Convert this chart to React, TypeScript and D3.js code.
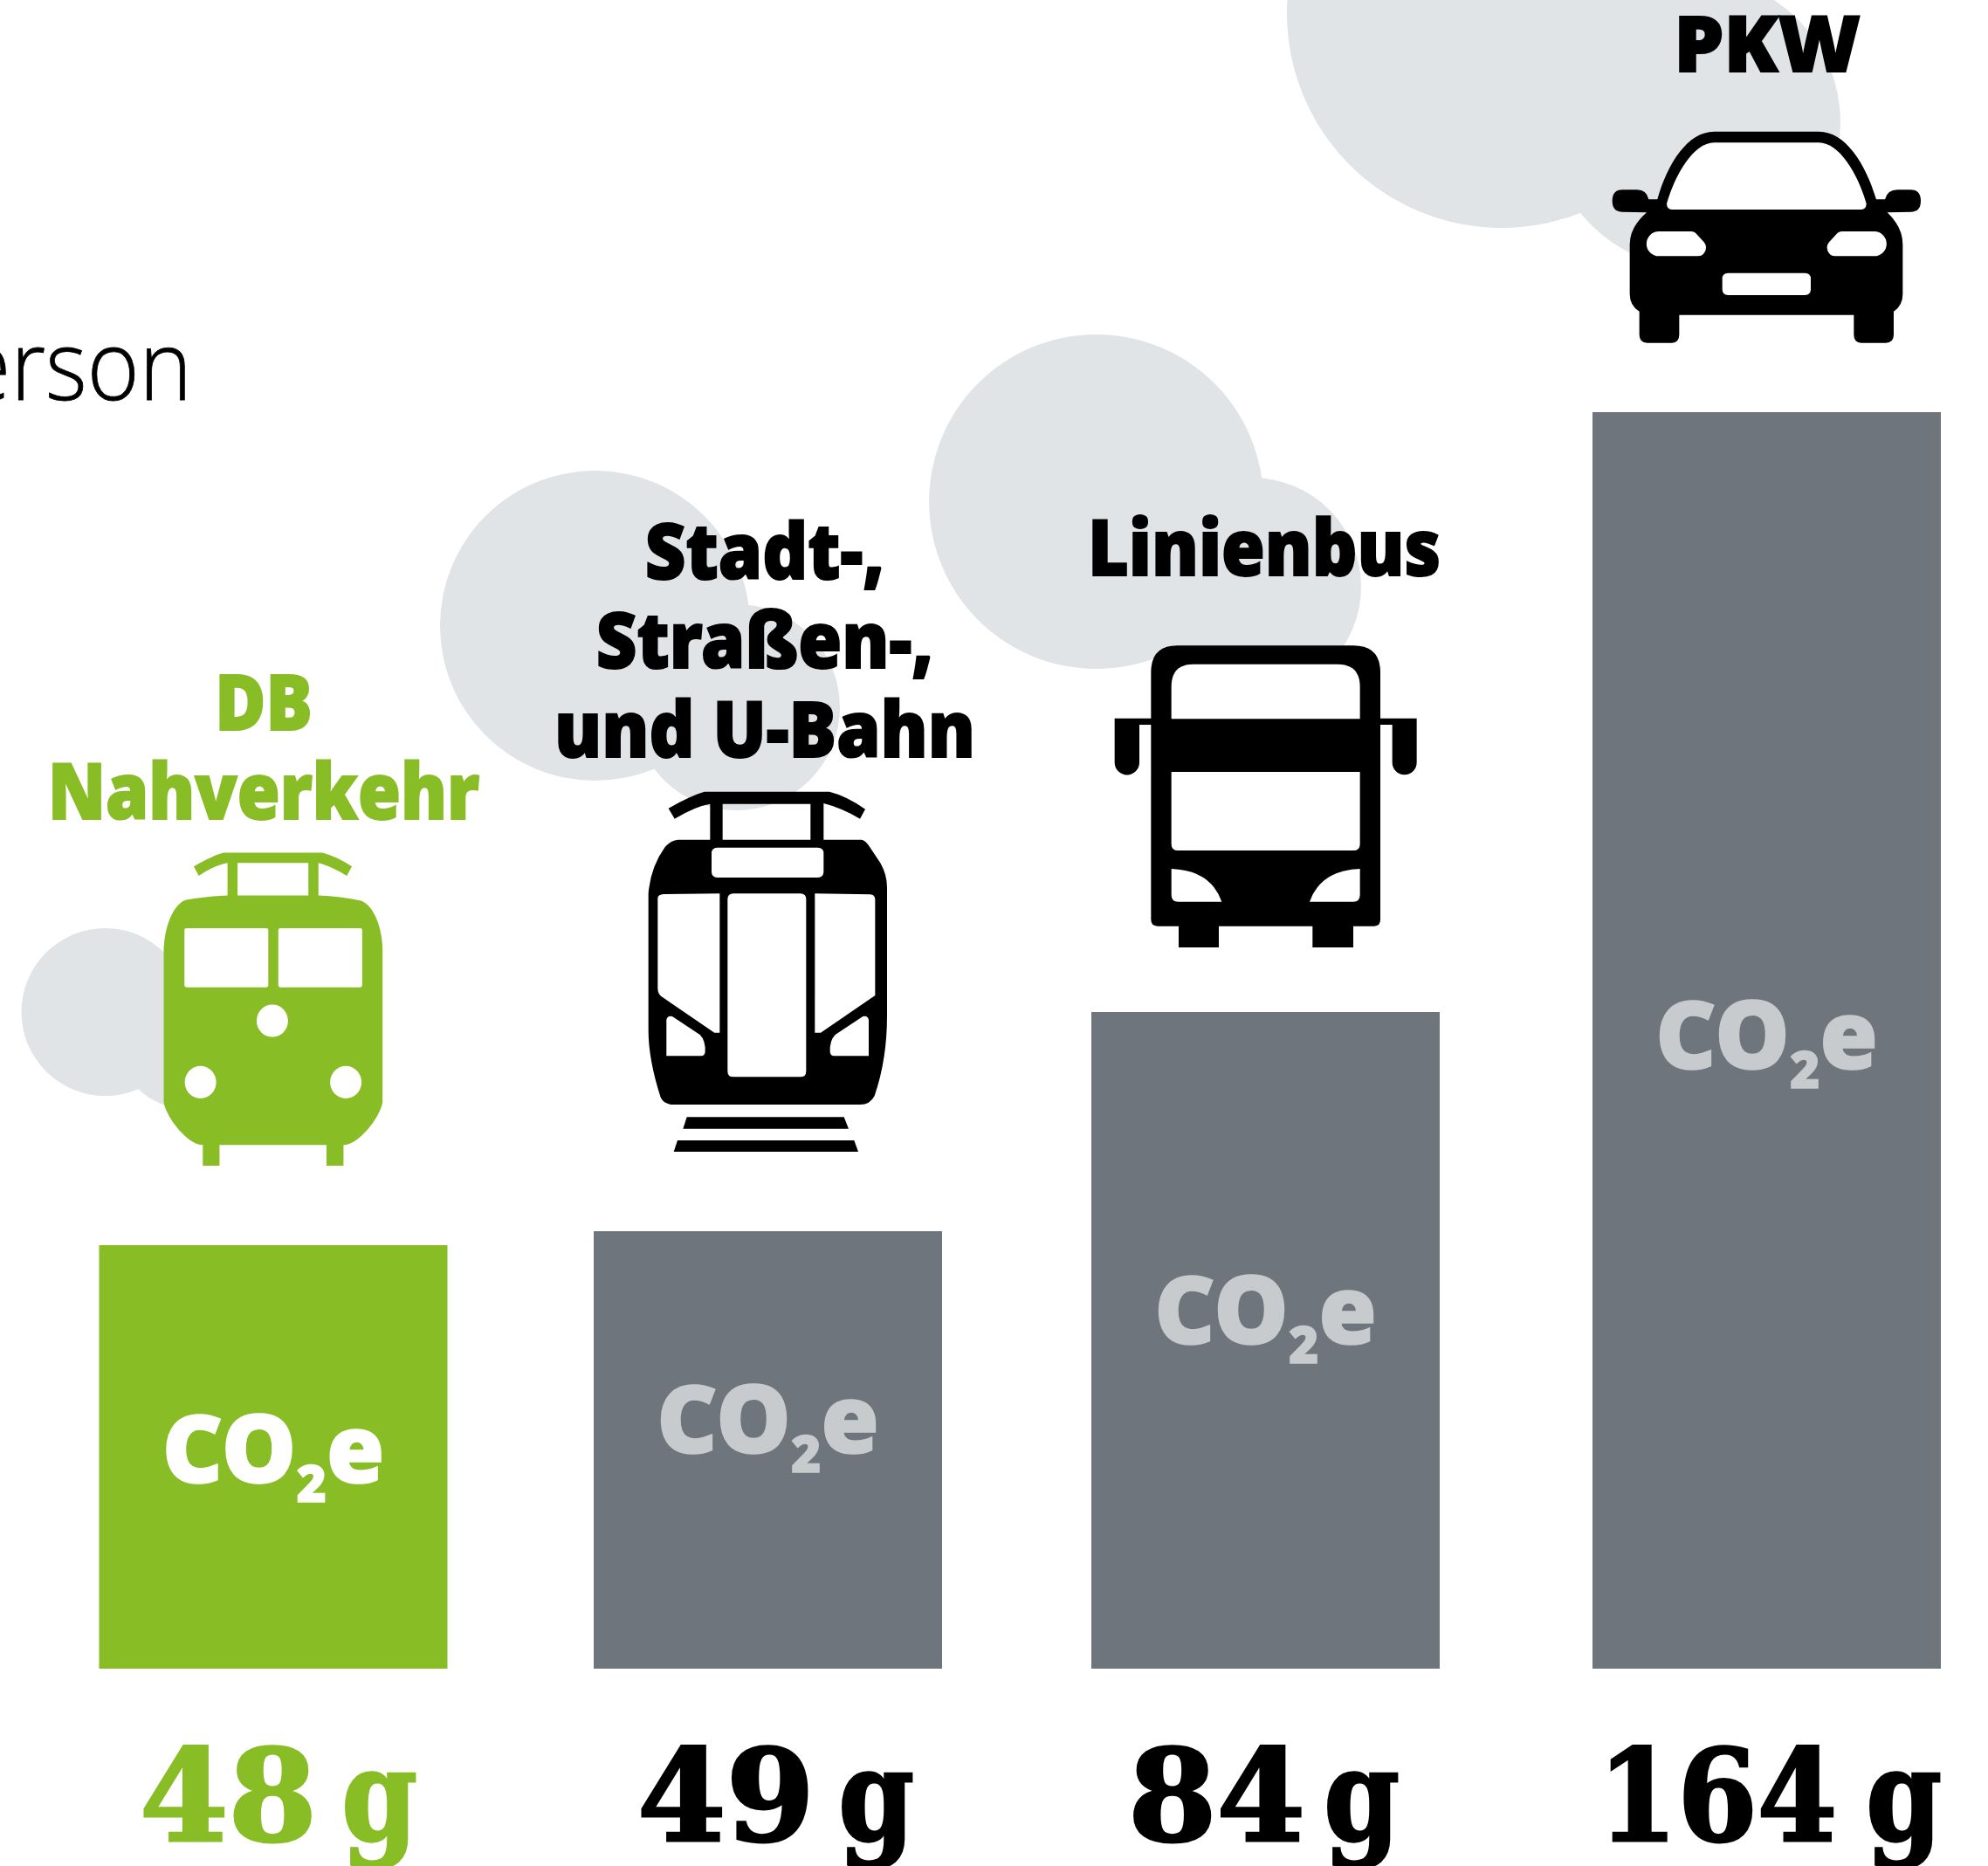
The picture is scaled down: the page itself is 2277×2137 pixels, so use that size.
import React, { useEffect, useRef } from 'react';
import * as d3 from 'd3';

const categories = ['DB Nahverkehr', 'Stadt-, Straßen- und U-Bahn', 'Linienbus', 'PKW'];
const values = [48, 49, 84, 164];
// the bars in the source are not proportional to the printed grams, so keep their drawn height
const drawnLevels = [485, 501, 752, 1439];
const labelLines = [['DB', 'Nahverkehr'], ['Stadt-,', 'Straßen-,', 'und U-Bahn'], ['Linienbus'], ['PKW']];

const WIDTH = 2277;
const HEIGHT = 2137;
const BASELINE = 1911;
const GREEN = '#88bd25';
const GREY = '#6e757c';
const CLOUD = '#e0e4e7';

const slotNudge = [0.5, -3, -3, 1];
const labelCentres = [302, 876, 1448, 2024];
const labelLastBaselines = [938, 867, 659, 82];
const labelStretch = [0.9, 0.92, 0.915, 1.03];
const digitLefts = [160, 730, 1292, 1830];
const gramRights = [478, 1047, 1603, 2224];
const co2Baselines = [1698, 1664, 1539, 1224];

const clouds = [
  [120.5, 1159, 96], [215, 1188, 82],
  [681.5, 716.5, 177.5], [844, 810, 118],
  [1255.6, 574.5, 191.5], [1434, 672, 125],
  [1720, 15, 246], [1941, 140, 167],
];

const roundRect = (x0: number, y0: number, x1: number, y1: number, r: number) =>
  `M${x0 + r},${y0}L${x1 - r},${y0}Q${x1},${y0} ${x1},${y0 + r}L${x1},${y1 - r}Q${x1},${y1} ${x1 - r},${y1}L${x0 + r},${y1}Q${x0},${y1} ${x0},${y1 - r}L${x0},${y0 + r}Q${x0},${y0} ${x0 + r},${y0}Z`;
const dot = (cx: number, cy: number, r: number) =>
  `M${cx - r},${cy}A${r},${r} 0 1 0 ${cx + r},${cy}A${r},${r} 0 1 0 ${cx - r},${cy}Z`;

// icon outlines, traced in the pixel space of the crops: origin + scale
const icons = [
  {
    x: 0, y: 740, kx: 1 / 2.613, ky: 1 / 2.529,
    solid: [
      'M580,638Q640,605 670,598L965,598Q1010,610 1053,638L1038,665Q985,635 953,628L953,725L923,725L923,628L711,628L711,725L681,725L681,628Q640,635 595,665Z',
      'M681,722L953,722Q1020,725 1080,737C1120,750 1145,820 1145,880L1145,1320C1140,1360 1075,1445 1028,1445L1028,1505L977,1505L977,1445L657,1445L657,1505L607,1505L607,1445C560,1445 495,1360 490,1320L490,890C490,820 515,750 555,735Q610,725 681,722Z',
    ],
    holes: [
      roundRect(552, 817, 803, 988, 6), roundRect(833, 817, 1084, 988, 6),
    ],
    lights: [[815, 1085], [600, 1263], [1035, 1263]],
  },
  {
    x: 620, y: 880, kx: 1 / 3, ky: 1 / 3,
    solid: [
      'M437,137Q510,95 560,80L990,80Q1050,95 1113,140L1095,173Q1030,135 970,120L970,250L925,250L925,122L623,122L623,250L580,250L580,122Q530,130 458,173Z',
      'M470,245L1100,245Q1115,248 1125,265L1165,325Q1188,365 1188,410L1188,850Q1188,1000 1145,1125Q1130,1155 1095,1155L445,1155Q420,1150 410,1130Q368,1000 368,900L368,430Q375,340 425,270Q445,247 470,245Z',
      'M500,1198L1040,1198L1056,1238L487,1238Z',
      'M468,1278L1075,1278L1089,1317L455,1317Z',
    ],
    holes: [
      roundRect(585, 272, 970, 375, 20), roundRect(640, 430, 910, 1060, 20),
      'M400,445Q402,433 420,432L613,430L613,908L595,908L415,785Q400,775 400,755Z',
      'M940,430L1130,433Q1147,435 1147,450L1147,780L960,908L940,908Z',
      'M430,865Q432,848 450,852L545,915Q565,935 563,975Q560,988 550,988L430,988Z',
      'M1125,865Q1123,848 1105,852L1010,915Q990,935 992,975Q995,988 1005,988L1125,988Z',
    ],
    lights: [],
  },
  {
    x: 1220, y: 700, kx: 1 / 3, ky: 1 / 3,
    solid: [
      'M385,118L990,118Q1083,118 1083,210L1083,368L1208,368L1208,520A42,42 0 0 1 1124,520L1124,390L1083,390L1083,1060Q1083,1082 1062,1082L990,1082L990,1155L850,1155L850,1082L528,1082L528,1155L390,1155L390,1082L318,1082Q295,1082 295,1060L295,390L255,390L255,520A42,42 0 0 1 170,520L170,368L295,368L295,210Q295,118 385,118Z',
    ],
    holes: [
      'M365,370L365,260Q365,182 440,182L935,182Q1013,182 1013,260L1013,370Z',
      'M365,552L1013,552L1013,800Q1013,822 990,822L388,822Q365,822 365,800Z',
      'M365,885Q500,890 538,998L388,998Q365,998 365,975Z',
      'M1013,885Q878,890 840,998L990,998Q1013,998 1013,975Z',
    ],
    lights: [],
  },
  {
    x: 1800, y: 0, kx: 1 / 3, ky: 1 / 3,
    solid: [
      'M490,452L850,452C940,452 1010,560 1047,685L1077,685Q1085,652 1120,652L1165,652Q1200,652 1200,690Q1200,728 1165,728L1085,730Q1138,780 1138,840L1138,1010Q1138,1050 1107,1070L1107,1150Q1107,1178 1080,1178L995,1178Q970,1178 970,1150L970,1082L370,1082L370,1150Q370,1178 345,1178L260,1178Q233,1178 233,1150L233,1070Q200,1050 200,1010L200,840Q200,780 258,730L175,728Q140,728 140,690Q140,652 175,652L225,652Q258,652 265,685L295,685C330,560 400,452 490,452Z',
    ],
    holes: [
      'M490,490L850,490C920,490 985,600 1013,700Q1013,720 995,720L345,720Q327,720 327,700C355,600 420,490 490,490Z',
      'M300,795L410,795Q422,795 430,805L455,832Q470,850 455,870Q448,880 435,880L300,880A42,42 0 0 1 300,795Z',
      'M1040,795L930,795Q918,795 910,805L885,832Q870,850 885,870Q892,880 905,880L1040,880A42,42 0 0 0 1040,795Z',
      roundRect(518, 938, 822, 1014, 20),
    ],
    lights: [],
  },
];

const LABEL_FONT = '"Noto Sans", "Open Sans", sans-serif';
const VALUE_FONT = '"DejaVu Serif", serif';

const App: React.FC = () => {
  const svgRef = useRef<SVGSVGElement>(null);

  useEffect(() => {
    if (!svgRef.current) return;
    const svg = d3.select(svgRef.current);
    svg.selectAll('*').remove();

    const x = d3.scaleBand<string>()
      .domain(categories)
      .range([113, 2222])
      .paddingInner(171 / 570);
    const y = d3.scaleLinear().domain([0, 1500]).range([BASELINE, BASELINE - 1500]);
    const colorOf = (i: number) => (i === 0 ? GREEN : '#000');

    // Clouds
    svg.append('g').attr('fill', CLOUD)
      .selectAll('circle').data(clouds).join('circle')
      .attr('cx', d => d[0]).attr('cy', d => d[1]).attr('r', d => d[2]);

    // Intro text, cut by the left edge
    svg.append('text')
      .attr('transform', 'translate(220,458) scale(0.93,1)')
      .attr('text-anchor', 'end')
      .attr('font-family', '"Open Sans", sans-serif')
      .attr('font-weight', 300)
      .attr('font-size', 110)
      .attr('fill', '#000')
      .attr('stroke', '#000')
      .attr('stroke-width', 0.8)
      .text('Person');

    // Bars
    svg.append('g')
      .selectAll('rect').data(categories).join('rect')
      .attr('x', (d, i) => (x(d) as number) + slotNudge[i])
      .attr('y', (d, i) => y(drawnLevels[i]))
      .attr('width', x.bandwidth())
      .attr('height', (d, i) => BASELINE - y(drawnLevels[i]))
      .attr('fill', (d, i) => (i === 0 ? GREEN : GREY));

    // CO2e inside the bars
    categories.forEach((d, i) => {
      const fill = i === 0 ? '#fff' : '#c8cbce';
      const t = svg.append('text')
        .attr('x', (x(d) as number) + slotNudge[i] + x.bandwidth() / 2)
        .attr('y', co2Baselines[i])
        .attr('text-anchor', 'middle')
        .attr('font-family', LABEL_FONT)
        .attr('font-weight', 900)
        .attr('font-size', 108)
        .attr('fill', fill)
        .attr('stroke', fill)
        .attr('stroke-width', 1.5);
      t.append('tspan').text('CO');
      t.append('tspan').attr('dy', 22).attr('font-size', 58).text('2');
      t.append('tspan').attr('dy', -22).text('e');
    });

    // Icons
    icons.forEach((icon, i) => {
      const g = svg.append('g').attr('transform', `translate(${icon.x},${icon.y}) scale(${icon.kx},${icon.ky})`);
      g.selectAll('path.solid').data(icon.solid).join('path')
        .attr('class', 'solid').attr('d', d => d).attr('fill', colorOf(i));
      g.selectAll('path.hole').data(icon.holes).join('path')
        .attr('class', 'hole').attr('d', d => d).attr('fill', '#fff');
      g.selectAll('path.light').data(icon.lights).join('path')
        .attr('class', 'light').attr('d', d => dot(d[0], d[1], 47)).attr('fill', '#fff');
    });

    // Category labels
    labelLines.forEach((lines, i) => {
      svg.append('g')
        .selectAll('text').data(lines).join('text')
        .attr('transform', (d, j) =>
          `translate(${labelCentres[i]},${labelLastBaselines[i] - (lines.length - 1 - j) * 102}) scale(${labelStretch[i]},1)`)
        .attr('text-anchor', 'middle')
        .attr('font-family', LABEL_FONT)
        .attr('font-weight', 900)
        .attr('font-size', 88)
        .attr('fill', colorOf(i))
        .attr('stroke', colorOf(i))
        .attr('stroke-width', 2)
        .text(d => d);
    });

    // Value labels: the source digits are wide, the g narrow, so each part gets its own stretch
    values.forEach((v, i) => {
      const g = svg.append('g')
        .attr('font-family', VALUE_FONT)
        .attr('font-weight', 700)
        .attr('font-size', 146)
        .attr('fill', colorOf(i))
        .attr('stroke', colorOf(i))
        .attr('stroke-width', 3);
      g.append('text')
        .attr('transform', `translate(${digitLefts[i]},2108) scale(${String(v).length > 2 ? 0.9 : 1},1)`)
        .text(v);
      g.append('text')
        .attr('transform', `translate(${gramRights[i]},2108) scale(0.85,1)`)
        .attr('text-anchor', 'end')
        .text('g');
    });
  }, []);

  return (
    <svg
      ref={svgRef}
      width={WIDTH}
      height={HEIGHT}
      style={{ position: 'absolute', left: 0, top: 0, background: '#fff' }}
    />
  );
};

export default App;
